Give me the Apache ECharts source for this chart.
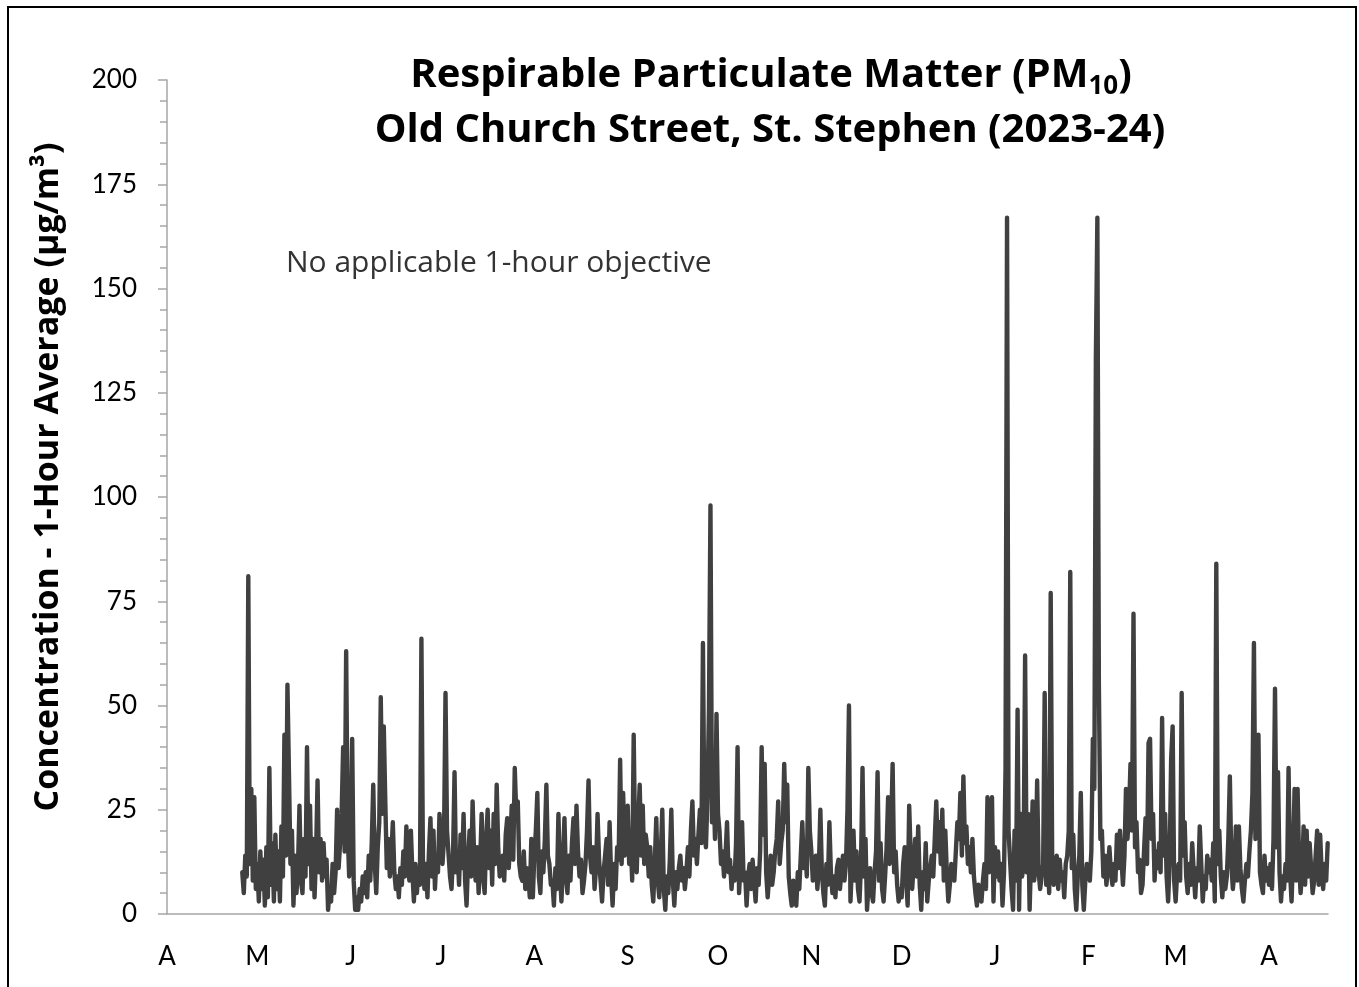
<!DOCTYPE html>
<html>
<head>
<meta charset="utf-8">
<script src="https://cdn.jsdelivr.net/npm/echarts@6/dist/echarts.min.js"></script>
<style>
  html, body { margin: 0; padding: 0; background: #fff; }
  #chart { width: 1359px; height: 987px; }
</style>
</head>
<body>
<div id="chart"></div>
<script>
// ---- Axis / label data ----
const monthLabels = ['A', 'M', 'J', 'J', 'A', 'S', 'O', 'N', 'D', 'J', 'F', 'M', 'A'];
const monthStarts = ['2023-04-01', '2023-05-01', '2023-06-01', '2023-07-01', '2023-08-01', '2023-09-01',
  '2023-10-01', '2023-11-01', '2023-12-01', '2024-01-01', '2024-02-01', '2024-03-01', '2024-04-01'];
const axisStart = '2023-04-01';
const axisEndDay = 385.6;           // ~20 Apr 2024, end of record
const yTicks = [0, 25, 50, 75, 100, 125, 150, 175, 200];
const samplesPerDay = 2;             // values read at ~12-hour steps

// ---- PM10 1-hour concentrations (µg/m³) ----
const apr23 = [10, 5, 14, 9, 81, 12, 30, 8, 28, 6];
const may23 = [12, 3, 15, 6, 13, 2, 16, 4, 35, 7, 17, 3, 19, 6, 15, 3, 21, 9, 43, 14, 55, 34, 12, 20, 2, 14, 5, 11, 26, 8, 5, 18, 9, 40, 12, 26, 6, 18, 4, 14, 32, 10, 18, 8, 17, 9, 13, 1, 6, 3, 12, 5, 10, 25, 11, 17, 24, 40, 15, 63, 20, 9];
const jun23 = [18, 42, 8, 1, 4, 1, 6, 3, 9, 5, 10, 4, 14, 8, 17, 31, 12, 5, 16, 22, 52, 24, 45, 27, 11, 18, 9, 14, 22, 10, 6, 9, 4, 11, 7, 15, 9, 21, 12, 8, 20, 10, 3, 12, 5, 11, 7, 66, 13, 6, 12, 4, 15, 23, 9, 20, 6, 14, 10, 24];
const jul23 = [24, 12, 18, 53, 20, 20, 9, 6, 14, 34, 10, 15, 7, 19, 11, 24, 8, 2, 13, 20, 9, 27, 14, 8, 16, 5, 12, 24, 9, 5, 18, 25, 11, 20, 7, 24, 12, 31, 16, 9, 10, 14, 8, 19, 23, 11, 17, 26, 13, 35, 24, 27, 12, 9, 8, 15, 6, 11, 9, 4, 18, 4];
const aug23 = [14, 20, 29, 9, 5, 15, 10, 18, 31, 14, 12, 7, 8, 2, 11, 6, 24, 10, 3, 12, 23, 9, 5, 14, 8, 17, 23, 12, 26, 15, 9, 13, 5, 8, 12, 20, 32, 14, 10, 16, 6, 11, 24, 13, 8, 3, 10, 14, 18, 7, 22, 9, 2, 12, 6, 16, 13, 37, 12, 29, 14, 20];
const sep23 = [26, 12, 18, 8, 43, 15, 10, 22, 31, 14, 26, 12, 19, 16, 9, 16, 7, 3, 12, 23, 8, 4, 14, 25, 6, 1, 9, 5, 13, 25, 8, 2, 10, 6, 11, 14, 8, 11, 6, 10, 16, 9, 20, 27, 14, 18, 12, 19, 25, 17, 65, 20, 16, 28, 49, 98, 22, 32, 18, 48];
const oct23 = [24, 20, 12, 15, 9, 14, 22, 10, 13, 6, 11, 8, 17, 40, 5, 12, 22, 8, 10, 2, 9, 12, 6, 13, 8, 3, 11, 7, 15, 40, 19, 36, 10, 4, 9, 14, 7, 10, 15, 18, 27, 12, 17, 20, 36, 22, 31, 9, 5, 2, 8, 4, 2, 10, 6, 14, 22, 11, 16, 9, 35, 20];
const nov23 = [15, 8, 9, 14, 6, 11, 25, 10, 5, 2, 12, 7, 22, 10, 5, 9, 4, 11, 13, 6, 10, 14, 8, 12, 25, 50, 3, 12, 20, 8, 15, 6, 3, 12, 35, 9, 18, 1, 7, 11, 5, 3, 10, 15, 34, 8, 17, 6, 3, 9, 16, 28, 12, 20, 36, 10, 15, 7, 3, 6];
const dec23 = [4, 12, 16, 8, 2, 26, 14, 6, 12, 18, 9, 21, 7, 1, 10, 6, 17, 3, 8, 11, 14, 9, 18, 27, 15, 22, 12, 25, 8, 20, 10, 3, 7, 12, 11, 8, 15, 22, 18, 29, 14, 33, 17, 21, 12, 16, 10, 18, 9, 5, 2, 7, 4, 3, 8, 12, 6, 28, 10, 15, 28, 3];
const jan24 = [16, 9, 15, 8, 12, 2, 10, 35, 167, 20, 13, 6, 1, 20, 8, 49, 1, 24, 9, 12, 62, 10, 24, 1, 14, 27, 8, 12, 32, 10, 6, 9, 12, 53, 7, 14, 5, 77, 12, 7, 11, 14, 6, 13, 8, 10, 4, 12, 14, 20, 82, 11, 19, 6, 1, 9, 14, 29, 7, 1, 8, 12];
const feb24 = [12, 8, 15, 42, 30, 133, 167, 55, 18, 20, 9, 14, 7, 11, 16, 10, 7, 12, 8, 19, 11, 20, 13, 7, 14, 30, 18, 24, 36, 20, 72, 16, 22, 10, 13, 5, 7, 15, 23, 12, 41, 42, 18, 24, 8, 15, 11, 17, 10, 47, 14, 24, 9, 3, 12, 37, 45, 8];
const mar24 = [3, 10, 12, 8, 53, 14, 22, 9, 5, 12, 7, 17, 10, 4, 11, 8, 21, 12, 3, 9, 6, 14, 10, 13, 8, 17, 3, 84, 12, 20, 9, 4, 10, 6, 9, 18, 33, 12, 6, 10, 21, 8, 21, 11, 6, 3, 8, 12, 9, 15, 20, 29, 65, 18, 26, 43, 10, 7, 5, 14, 8, 11];
const apr24 = [7, 12, 6, 18, 54, 16, 34, 10, 3, 9, 6, 12, 8, 35, 10, 3, 14, 30, 8, 30, 12, 5, 10, 21, 7, 20, 9, 17, 11, 5, 8, 14, 20, 7, 19, 10, 6, 12, 8, 17];

const blocks = [
  ['2023-04-26', apr23], ['2023-05-01', may23], ['2023-06-01', jun23], ['2023-07-01', jul23],
  ['2023-08-01', aug23], ['2023-09-01', sep23], ['2023-10-01', oct23], ['2023-11-01', nov23],
  ['2023-12-01', dec23], ['2024-01-01', jan24], ['2024-02-01', feb24], ['2024-03-01', mar24],
  ['2024-04-01', apr24]
];

// ---- build series ----
function dayOf(s) {
  return (Date.parse(s + 'T00:00:00Z') - Date.parse(axisStart + 'T00:00:00Z')) / 86400000;
}
const seriesData = [];
blocks.forEach(function (b) {
  const d0 = dayOf(b[0]);
  b[1].forEach(function (v, k) { seriesData.push([d0 + k / samplesPerDay, v]); });
});
const labelDays = monthStarts.map(dayOf);
const labelMap = {};
labelDays.forEach(function (d, i) { labelMap[d] = monthLabels[i]; });

const FONT = 'Lato';
const TFONT = 'Open Sans';
const chart = echarts.init(document.getElementById('chart'), null, { renderer: 'canvas' });
chart.setOption({
  animation: false,
  backgroundColor: '#ffffff',
  grid: { left: 167, right: 31, top: 80, bottom: 73, containLabel: false },
  xAxis: {
    type: 'value',
    min: 0,
    max: axisEndDay,
    splitLine: { show: false },
    axisLine: { show: true, lineStyle: { color: '#a6a6a6', width: 1.5 } },
    axisTick: { show: false },
    axisLabel: {
      customValues: labelDays,
      formatter: function (v) { return labelMap[v] !== undefined ? labelMap[v] : ''; },
      fontFamily: FONT, fontSize: 26, color: '#000', margin: 30
    }
  },
  yAxis: {
    type: 'value',
    min: yTicks[0],
    max: yTicks[yTicks.length - 1],
    interval: 25,
    splitLine: { show: false },
    axisLine: { show: true, lineStyle: { color: '#a6a6a6', width: 1.5 } },
    axisTick: { show: true, inside: false, length: 9, lineStyle: { color: '#a6a6a6', width: 1.5 } },
    minorTick: { show: true, splitNumber: 5, length: 7, lineStyle: { color: '#a6a6a6', width: 1.5 } },
    axisLabel: { fontFamily: FONT, fontSize: 26, color: '#000', margin: 30 }
  },
  series: [{
    type: 'line',
    data: seriesData,
    showSymbol: false,
    symbol: 'none',
    lineStyle: { color: '#404040', width: 4.4, cap: 'round', join: 'round' },
    z: 3
  }],
  graphic: [
    {
      type: 'rect', silent: true,
      shape: { x: 8, y: 7, width: 1348, height: 1000 },
      style: { fill: 'none', stroke: '#000', lineWidth: 2 }
    },
    {
      type: 'text', x: 771, y: 76,
      style: {
        text: '{a|Respirable Particulate Matter (PM}{s|10}{a|)}',
        align: 'center', verticalAlign: 'middle',
        rich: {
          a: { fontFamily: TFONT, fontSize: 40, fontWeight: 'bold', fill: '#000', lineHeight: 48 },
          s: { fontFamily: TFONT, fontSize: 26, fontWeight: 'bold', fill: '#000', lineHeight: 26, verticalAlign: 'bottom' }
        }
      }
    },
    {
      type: 'text', x: 770, y: 131,
      style: {
        text: 'Old Church Street, St. Stephen (2023-24)',
        align: 'center', verticalAlign: 'middle',
        fontFamily: TFONT, fontSize: 40, fontWeight: 'bold', fill: '#000'
      }
    },
    {
      type: 'text', x: 48, y: 477, rotation: Math.PI / 2,
      style: {
        text: 'Concentration - 1-Hour Average (µg/m³)',
        align: 'center', verticalAlign: 'middle',
        fontFamily: TFONT, fontSize: 34, fontWeight: 'bold', fill: '#000'
      }
    },
    {
      type: 'text', x: 286, y: 263,
      style: {
        text: 'No applicable 1-hour objective',
        align: 'left', verticalAlign: 'middle',
        fontFamily: TFONT, fontSize: 30, fill: '#333'
      }
    }
  ]
});
</script>
</body>
</html>
